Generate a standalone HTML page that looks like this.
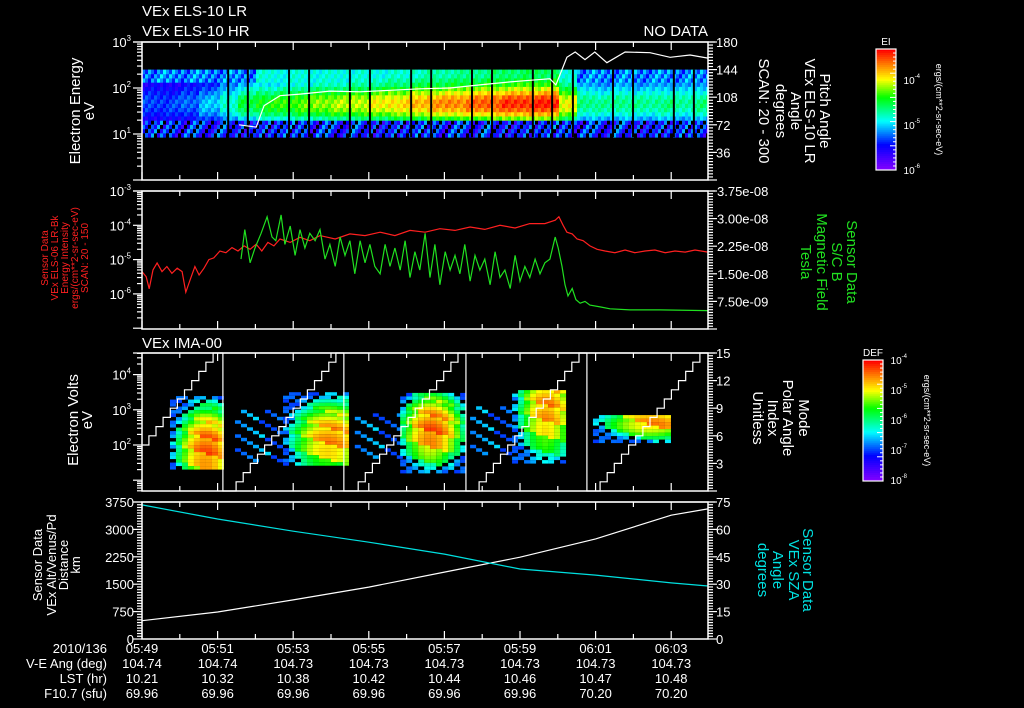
<!DOCTYPE html>
<html><head><meta charset="utf-8">
<style>
html,body{margin:0;padding:0;background:#000;}
svg{display:block;}
text{font-family:"Liberation Sans",sans-serif;}
</style></head>
<body>
<svg id="chart" width="1024" height="708" viewBox="0 0 1024 708" xmlns="http://www.w3.org/2000/svg">
<rect width="1024" height="708" fill="#000"/>
<g id="gSpec1"></g>
<g id="gSpec3"></g>
<g id="gLines"></g>
<g id="gAxes"></g>
<g id="gText"></g>
</svg>
<script>
// ---------- DATA ----------
const timeTickLabels = ["05:49","05:51","05:53","05:55","05:57","05:59","06:01","06:03"];
const veAng = ["104.74","104.74","104.73","104.73","104.73","104.73","104.73","104.73"];
const lstHr = ["10.21","10.32","10.38","10.42","10.44","10.46","10.47","10.48"];
const f107 = ["69.96","69.96","69.96","69.96","69.96","69.96","70.20","70.20"];

const elsLevel = [0.25,0.25,0.28,0.35,0.45,0.55,0.6,0.62,0.65,0.68,0.7,0.72,0.75,0.78,0.82,0.85,0.87,0.9,0.92,0.95,0.96,0.97,0.75,0.5,0.48,0.5,0.48,0.5,0.48,0.5];
const elsProfile = [0.3,0.3,0.35,0.4,0.7,0.85,0.95,1,1,0.95,0.85,0.75,0.65,0.6,0.55,0.55];
const elsGaps = [2.28,2.80,3.89,4.42,5.50,6.03,7.12,7.65,8.73,9.26,10.34,10.85,11.40,12.46,12.99,14.07,14.60];
const paT = [2.57,2.86,3.02,3.23,3.65,4.18,4.97,5.77,6.56,7.35,8.15,8.94,9.74,10.26,10.79,10.95,11.11,11.24,11.46,11.72,11.98,12.30,12.78,13.44,13.97,14.50,14.97];
const paV = [72,70,69,97,110,112,116,115,117,119,120,124,128,130,132,124,144,160,167,157,167,153,167,166,160,163,159];

const eiT = [0,.11,.19,.29,.40,.53,.66,.79,.93,1.06,1.16,1.27,1.40,1.51,1.64,1.77,1.90,2.06,2.22,2.38,2.54,2.70,2.86,3.02,3.17,3.33,3.49,3.65,3.92,4.18,4.44,4.71,5.11,5.50,5.90,6.30,6.69,7.09,7.49,7.88,8.28,8.68,9.07,9.47,9.87,10.26,10.66,10.93,11.03,11.14,11.24,11.38,11.51,11.67,11.85,12.04,12.25,12.51,12.78,13.04,13.31,13.57,13.84,14.10,14.37,14.63,14.97];
const eiV = [-5.35,-5.5,-5.85,-5.3,-5.1,-5.35,-5.2,-5.4,-5.25,-5.35,-5.95,-5.6,-5.2,-5.45,-5.25,-5.0,-4.95,-4.75,-4.8,-4.65,-4.75,-4.6,-4.7,-4.55,-4.75,-4.5,-4.6,-4.4,-4.5,-4.35,-4.45,-4.3,-4.4,-4.25,-4.3,-4.2,-4.3,-4.15,-4.2,-4.1,-4.15,-4.05,-4.12,-4.0,-4.08,-3.95,-3.95,-3.85,-3.75,-4.0,-4.2,-4.25,-4.4,-4.45,-4.6,-4.7,-4.75,-4.8,-4.72,-4.8,-4.75,-4.72,-4.8,-4.75,-4.78,-4.72,-4.78];
const bT = [2.62,2.72,2.86,2.99,3.15,3.31,3.44,3.54,3.68,3.78,3.92,4.05,4.18,4.31,4.44,4.58,4.71,4.84,4.97,5.11,5.24,5.37,5.50,5.63,5.77,5.90,6.03,6.16,6.30,6.43,6.56,6.69,6.83,6.96,7.09,7.22,7.35,7.49,7.62,7.75,7.88,8.02,8.15,8.28,8.41,8.54,8.68,8.81,8.94,9.07,9.21,9.34,9.47,9.60,9.74,9.87,10.00,10.13,10.26,10.40,10.53,10.66,10.79,10.93,11.01,11.11,11.19,11.27,11.38,11.48,11.59,11.72,11.85,12.12,12.38,12.91,13.70,14.97];
const bV = [1.9,2.7,1.8,2.2,2.6,3.05,2.5,2.4,3.1,2.3,2.8,2.0,2.7,2.2,2.6,2.4,2.7,1.9,2.3,1.7,2.5,2.0,2.4,1.5,2.4,1.8,2.3,1.7,1.5,2.3,1.7,2.2,1.6,2.4,1.4,2.1,1.6,2.6,1.4,2.3,1.2,2.1,1.6,2.0,1.5,2.3,1.3,2.0,1.6,1.9,1.2,2.1,1.4,1.6,1.1,2.0,1.3,1.7,1.4,1.9,1.5,1.8,1.9,2.5,2.2,1.7,1.2,0.9,1.1,0.8,0.7,0.75,0.65,0.6,0.55,0.52,0.52,0.5];

const blobT0 = [0.74,2.46,3.73,5.63,6.83,8.68,9.79,11.93];
const blobT1 = [2.12,3.70,5.32,6.83,8.57,9.74,11.19,13.97];
const blobLo = [1.35,1.6,1.43,1.7,1.29,1.8,1.49,2.14];
const blobHi = [3.39,3.0,3.5,2.9,3.48,3.1,3.56,2.85];
const blobPk = [0.9,0.3,0.85,0.3,0.9,0.3,0.85,0.85];
const blobPt = [1.67,3.1,4.97,6.2,7.62,9.2,10.66,13.62];
const blobPe = [2.0,2.3,2.28,2.3,2.51,2.4,3.14,2.71];
const rampStart = [-0.95,2.30,5.53,8.73,11.93];
const rampReset = [2.14,5.34,8.57,11.77,99];
const rampDur = 2.83;

const geoT = [0,2,4,6,8,10,12,14,14.97];
const altV = [500,740,1070,1420,1830,2240,2740,3390,3560];
const szaV = [73.4,65.7,59,53,46.5,38.3,35,30.7,29];

// ---------- HELPERS ----------
const NS="http://www.w3.org/2000/svg";
const X0=142,X1=708,PXMIN=37.8;
const X=t=>X0+t*PXMIN;
function el(tag,attrs,parent){const e=document.createElementNS(NS,tag);for(const k in attrs)e.setAttribute(k,attrs[k]);parent.appendChild(e);return e;}
const stops=[[0,270],[0.2,240],[0.4,180],[0.6,120],[0.75,60],[1,0]];
function cmap(l){l=Math.max(0,Math.min(1,l));for(let i=1;i<stops.length;i++){if(l<=stops[i][0]){const a=stops[i-1],b=stops[i];const f=(l-a[0])/(b[0]-a[0]);return `hsl(${a[1]+(b[1]-a[1])*f},100%,50%)`;}}return "hsl(0,100%,50%)";}
const gS1=document.getElementById('gSpec1'),gS3=document.getElementById('gSpec3'),gL=document.getElementById('gLines'),gA=document.getElementById('gAxes'),gT=document.getElementById('gText');
function txt(s,x,y,opts,parent){opts=opts||{};const e=el('text',{x:x,y:y,fill:opts.fill||'#fff','font-size':opts.size||13,'text-anchor':opts.anchor||'start'},parent||gT);if(opts.rot)e.setAttribute('transform',`rotate(${opts.rot} ${x} ${y})`);e.textContent=s;return e;}

const P1={t:42,b:180},P2={t:191,b:329},P3={t:353,b:491},P4={t:502,b:639};
const y1=le=>P1.b-le*46;
const y1r=d=>P1.b-d*(138/180);
const y2=le=>P2.t+(-3-le)*34.3;
const y2r=v=>P2.b-v*36.8;
const y3=le=>445-(le-2)*35.2;
const y3r=v=>P3.b-v*(138/15);
const y4=v=>P4.b-v*(137/3750);
const y4r=v=>P4.b-v*(137/75);

// ---------- ELS SPECTROGRAM ----------
(function(){
  const eLo=0.93,eHi=2.4,nb=elsProfile.length,de=(eHi-eLo)/nb;
  const colW=3;let i=0;
  for(let x=X0;x<X1;x+=colW,i++){
    const t=(x-X0)/PXMIN;const lev=elsLevel[Math.min(elsLevel.length-1,Math.floor(t/0.5))];
    for(let j=0;j<nb;j++){
      const tex=(((i*73+j*37)%11)/10-0.5);
      if(j<4&&((i*31+j*17)%4===0))continue;
      let l=(j<4?0.22+tex*0.25:lev*elsProfile[j]+tex*0.1);
      if(j>=13&&lev<0.6)l=0.3+tex*0.2;
      if(j>=13&&lev>=0.6)l=Math.max(l,0.42+tex*0.1);
      const yt=y1(eLo+(j+1)*de),yb=y1(eLo+j*de);
      const r=el('rect',{x:x,y:yt,width:colW,height:yb-yt+0.4,fill:cmap(l)},gS1);
      
      
    }
  }
  elsGaps.forEach(g=>{const r=el('rect',{x:X(g)-1,y:y1(eHi),width:2,height:y1(eLo)-y1(eHi),fill:'#000'},gS1);
    });
})();

// ---------- IMA SPECTROGRAM ----------
(function(){
  const cw=6,ch=3.5;
  blobT0.forEach((t0,b)=>{
    const t1=blobT1[b],lo=blobLo[b],hi=blobHi[b],pk=blobPk[b],pt=blobPt[b],pe=blobPe[b];
    const hw=Math.max(pt-t0,t1-pt),hh=Math.max(pe-lo,hi-pe);
    let i=0;
    for(let x=X(t0);x<X(t1);x+=cw,i++){
      let j=0;
      for(let yy=y3(hi);yy<y3(lo);yy+=ch,j++){
        const t=(x-X0)/PXMIN,le=2+(445-yy)/35.2;
        const d=Math.pow((t-pt)/hw,2)+Math.pow((le-pe)/hh,2);
        const tex=(((i*53+j*29+b*7)%9)/8-0.5);
        let l=pk*(1-0.6*d)+tex*0.12;
        if(pk<0.5){if((i*5+j*7+b*3)%4!==0)continue;l=0.3+tex*0.15;}
        else if(d>0.8&&(i*11+j*5)%3===0)continue;
        if(l<0.27)l=0.27+tex*0.05;
        const r=el('rect',{x:x,y:yy,width:cw,height:ch,fill:cmap(l)},gS3);
        
        
      }
    }
  });
})();

// ---------- LINES ----------
function poly(ts,vs,yf,color,name){
  const pts=ts.map((t,i)=>`${X(t).toFixed(1)},${yf(vs[i]).toFixed(1)}`).join(' ');
  const p=el('polyline',{points:pts,fill:'none',stroke:color,'stroke-width':1.2},gL);
  
}
poly(paT,paV,y1r,'#fff','pitch-angle-line');
poly(eiT,eiV,y2,'#ff2020','energy-intensity-line');
poly(bT,bV,y2r,'#20e020','magnetic-field-line');
poly(geoT,altV,y4,'#fff','altitude-line');
poly(geoT,szaV,y4r,'#00e0e0','sza-line');
(function(){
  let d='';
  rampStart.forEach((s,k)=>{
    const stepDur=rampDur/15;
    for(let v=0;v<=15;v++){
      const ta=s+v*stepDur,tb=s+(v+1)*stepDur;
      const a=Math.max(ta,0),bb=(v===15?rampReset[k]:Math.min(tb,rampReset[k]));
      if(bb<=0)continue;
      const xa=Math.max(X0,X(a)),xb=Math.min(X1,X(bb));
      if(xa>=X1)break;
      d+=(v===0||ta<0&&d.slice(-1)===''?'M':(d===''?'M':'L'))+xa.toFixed(1)+','+y3r(v).toFixed(1)+'L'+xb.toFixed(1)+','+y3r(v).toFixed(1);
    }
    if(rampReset[k]<15){const xr=X(rampReset[k]);d+=`M${xr},${P3.t}L${xr},${P3.b}L${Math.min(X1,X(rampStart[k+1]))},${P3.b}`;}
  });
  const p=el('path',{d:d,fill:'none',stroke:'#fff','stroke-width':1.2},gL);
  
})();

// ---------- AXES ----------
function line(x1,y1_,x2,y2_,parent,w){el('line',{x1:x1,y1:y1_,x2:x2,y2:y2_,stroke:'#fff','stroke-width':w||1.2},parent||gA);}
[P1,P2,P3,P4].forEach((P,k)=>{
  const r=el('rect',{x:X0,y:P.t,width:X1-X0,height:P.b-P.t,fill:'none',stroke:'#fff','stroke-width':1.5},gA);
  
  line(133,P.t,715,P.t);
  for(let m=0;m<=14;m++){const x=X(m),L=m%2===0?8:5;line(x,P.t,x,P.t+L);line(x,P.b,x,P.b-L);}
});
function logTicks(yf,lo,hi,side){
  for(let d=lo;d<hi;d++){for(let k=1;k<10;k++){const y=yf(d+Math.log10(k));const L=k===1?9:5;
    if(side==='l')line(X0-L,y,X0,y);else line(X1,y,X1+L,y);}}
  const y=yf(hi);if(side==='l')line(X0-9,y,X0,y);
}
function linTicks(yf,max,step,n,side){for(let i=0;i<=n;i++){const v=i*max/n;const y=yf(v);const L=(Math.abs(v/step-Math.round(v/step))<1e-6)?9:5;if(side==='l')line(X0-L,y,X0,y);else line(X1,y,X1+L,y);}}
logTicks(y1,0,3,'l');
linTicks(y1r,180,36,45,'r');
logTicks(y2,-7,-3,'l');
linTicks(y2r,3.75,0.75,50,'r');
(function(){for(let d=0;d<5;d++)for(let k=1;k<10;k++){const y=y3(d+Math.log10(k));if(y<P3.t||y>P3.b)continue;line(X0-(k===1?9:5),y,X0,y);}})();
linTicks(y3r,15,3,50,'r');
linTicks(y4,3750,750,50,'l');
linTicks(y4r,75,15,50,'r');

function sup(base,exp,x,y,fill,size){const e=txt('',x,y,{fill:fill,size:size||13,anchor:'end'});
  const a=el('tspan',{},e);a.textContent=base;const b=el('tspan',{dy:-6,'font-size':(size||13)*0.6},e);b.textContent=exp;return e;}
[[3,'3'],[2,'2'],[1,'1']].forEach(([d,s])=>sup('10',s,131,y1(d)+5));
[[-3,'-3'],[-4,'-4'],[-5,'-5'],[-6,'-6']].forEach(([d,s])=>sup('10',s,131,y2(d)+5));
[[4,'4'],[3,'3'],[2,'2']].forEach(([d,s])=>sup('10',s,131,y3(d)+5));
[180,144,108,72,36].forEach(v=>txt(String(v),716,y1r(v)+5));
["3.75e-08","3.00e-08","2.25e-08","1.50e-08","7.50e-09"].forEach((s,i)=>txt(s,717,y2r(3.75-0.75*i)+5));
[15,12,9,6,3].forEach(v=>txt(String(v),716,y3r(v)+5));
[3750,3000,2250,1500,750,0].forEach(v=>txt(String(v),134,y4(v)+5,{anchor:'end'}));
[75,60,45,30,15,0].forEach(v=>txt(String(v),716,y4r(v)+5));

timeTickLabels.forEach((s,i)=>{const x=X(i*2);txt(s,x,653,{anchor:'middle'});txt(veAng[i],x,668,{anchor:'middle'});txt(lstHr[i],x,683,{anchor:'middle'});txt(f107[i],x,698,{anchor:'middle'});});
txt("2010/136",107,653,{anchor:'end'});txt("V-E Ang (deg)",107,668,{anchor:'end'});txt("LST (hr)",107,683,{anchor:'end'});txt("F10.7 (sfu)",107,698,{anchor:'end'});

txt("VEx ELS-10 LR",142,16,{size:15});txt("VEx ELS-10 HR",142,36,{size:15});
txt("NO DATA",708,36,{size:15,anchor:'end'});txt("VEx IMA-00",142,348,{size:15});

function vlab(lines,xs,yc,rot,fill,size){lines.forEach((s,i)=>txt(s,xs[i],yc,{rot:rot,anchor:'middle',fill:fill,size:size}));}
vlab(["Electron Energy","eV"],[80,94],111,-90,'#fff',15);
vlab(["Pitch Angle","VEx ELS-10 LR","Angle","degrees","SCAN: 20 - 300"],[820,805,791,776,759],111,90,'#fff',15);
vlab(["Sensor Data","VEx ELS-06 LR-Bk","Energy Intensity","ergs/(cm**2-sr-sec-eV)","SCAN: 20 - 150"],[48,58,68,78,88],258,-90,'#ff2020',10);
vlab(["Sensor Data","S/C B","Magnetic Field","Tesla"],[847,832,817,801],262,90,'#20e020',15);
vlab(["Electron Volts","eV"],[78,92],420,-90,'#fff',15);
vlab(["Mode","Polar Angle","Index","Unitless"],[799,783,768,753],418,90,'#fff',15);
vlab(["Sensor Data","VEx Alt/Venus/Pd","Distance","km"],[42,56,68,80],565,-90,'#fff',13);
vlab(["Sensor Data","VEx SZA","Angle","degrees"],[803,789,773,758],570,90,'#00e0e0',15);

function cbar(x,yt,yb,title,labs,ttlX,name){
  const g=el('g',{},gA);
  const n=60;for(let i=0;i<n;i++){el('rect',{x:x,y:yt+(yb-yt)*i/n,width:20,height:(yb-yt)/n+0.5,fill:cmap(1-i/(n-1))},g);}
  el('rect',{x:x,y:yt,width:20,height:yb-yt,fill:'none',stroke:'#fff','stroke-width':1.2},g);
  for(let i=0;i<=30;i++){const y=yt+(yb-yt)*i/30;line(x+20-(i%6===0?6:3),y,x+20,y,g,1);}
  txt(title,x+10,yt-4,{anchor:'middle',size:10});
  labs.forEach(([s,y])=>sup('10',s,x+44,y+4,'#fff',10));
  txt("ergs/(cm**2-sr-sec-eV)",ttlX,(yt+yb)/2,{rot:90,anchor:'middle',size:9});
}
cbar(876,49,170,"EI",[["-4",80],["-5",125],["-6",170]],936,'ei-colorbar');
cbar(863,360,481,"DEF",[["-4",360],["-5",390],["-6",420],["-7",450],["-8",480]],924,'def-colorbar');
</script>
</body></html>
